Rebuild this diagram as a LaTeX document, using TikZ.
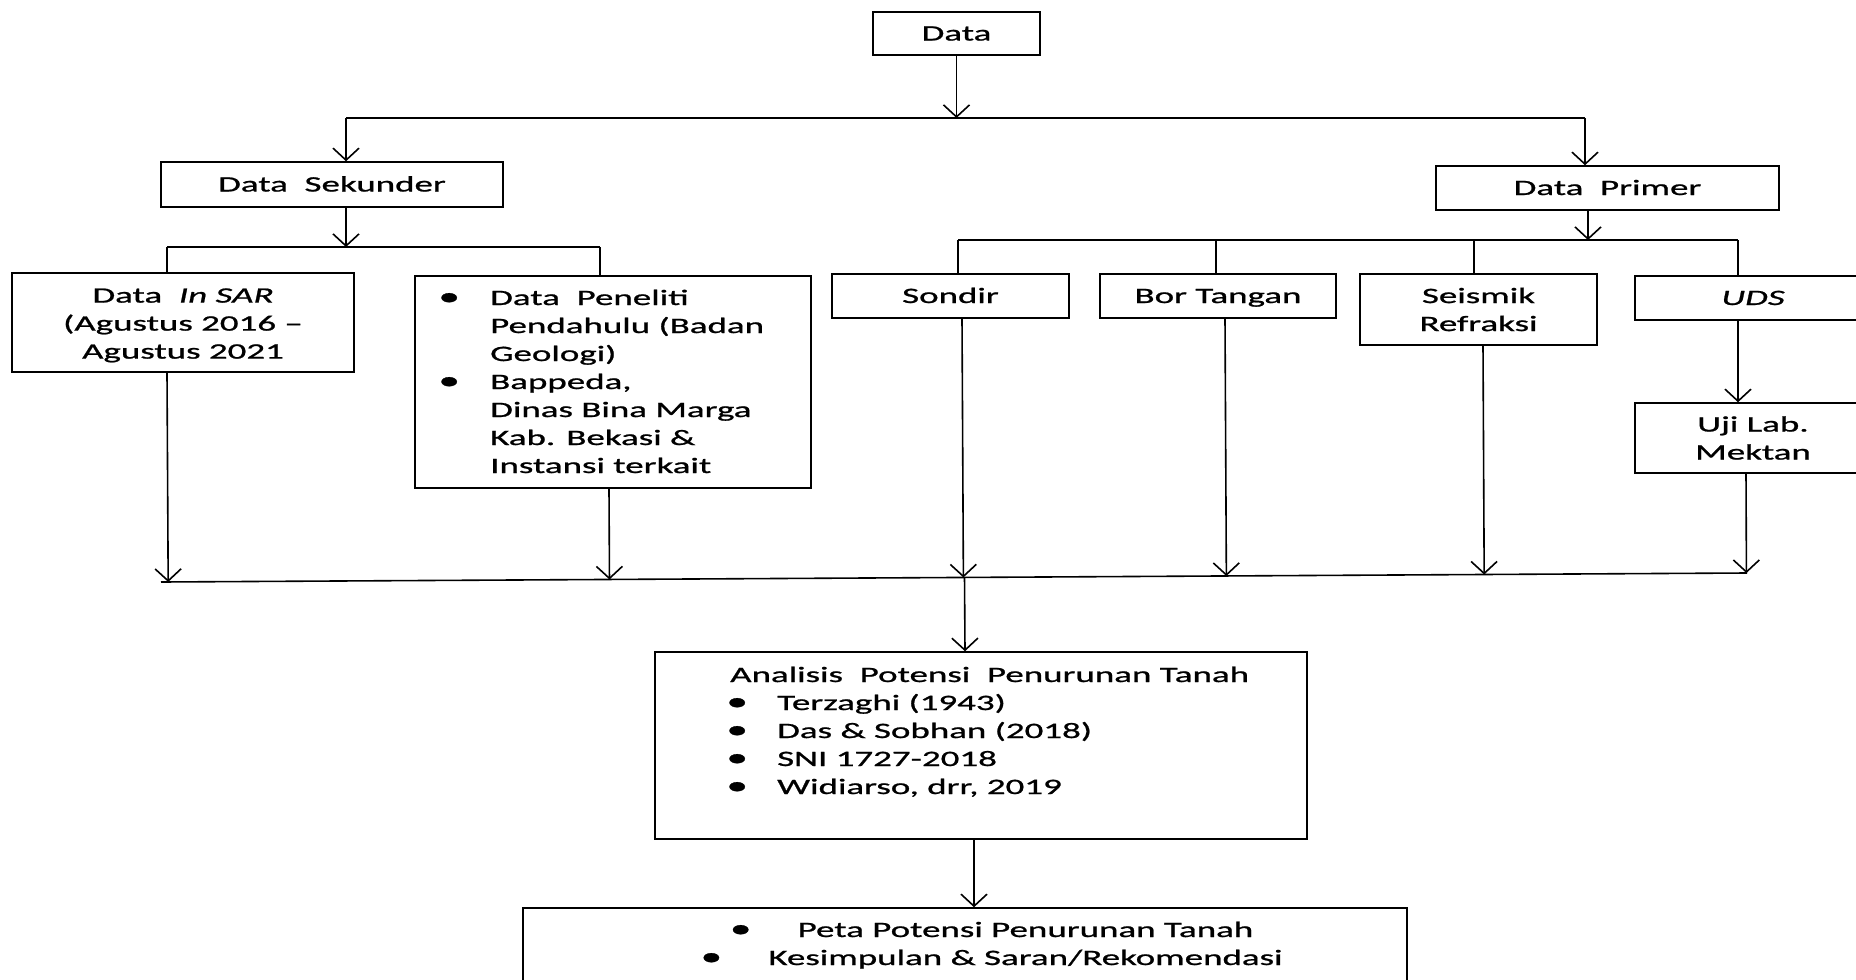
\documentclass[tikz,border=0pt]{standalone}
\usepackage{fontspec}
\setmainfont[FakeStretch=1.68, FakeBold=1]{Carlito}
\usepackage{tikz}
\usetikzlibrary{arrows.meta, calc}
\newcommand{\blt}{\makebox[0pt]{\fontsize{26}{28}\selectfont\symbol{"2022}}}

\begin{document}
\begin{tikzpicture}[x=1pt, y=-1pt, font=\fontsize{22}{28}\selectfont,
  box/.style={draw, line width=1.5pt, inner sep=0pt, align=center},
  onebox/.style={box, text height=17pt, text depth=3pt},
  link/.style={line width=1.6pt},
  arr/.style={link, -{Straight Barb[length=12pt, width=26pt]}}]
\useasboundingbox (0,0) rectangle (1856,980);
% Boxes
\node[onebox, minimum width=167, minimum height=43] (data) at (956.5,33.5) {Data};
\node[onebox, minimum width=342, minimum height=45] (sek) at (332,184.5) {Data\ \ Sekunder};
\node[onebox, minimum width=343, minimum height=44] (prim) at (1607.5,188) {Data\ \ Primer};
\node[box, minimum width=342, minimum height=99] (insar) at (183,322.5)
  {\rule{0pt}{20pt}Data\ \ \textit{In SAR}\\(Agustus 2016 --\\Agustus 2021};
\node[box, minimum width=396, minimum height=212] (bapp) at (613,382) {};
\node[onebox, minimum width=237, minimum height=44] (sondir) at (950.5,296) {Sondir};
\node[onebox, minimum width=236, minimum height=44] (bor) at (1218,296) {Bor Tangan};
\node[box, minimum width=237, minimum height=71] (seis) at (1478.5,309.5) {Seismik\\Refraksi};
\node[onebox, minimum width=236, minimum height=44] (uds) at (1753,298) {\textit{UDS}};
\node[box, minimum width=236, minimum height=70] (uji) at (1753,438) {Uji Lab.\\Mektan};
\node[box, minimum width=652, minimum height=187] (anl) at (981,745.5) {};
\node[box, minimum width=884, minimum height=100] (peta) at (965,958) {};
% Lists
\node[anchor=base west, inner sep=0pt] (bapptxt) at (449,305) {%
  \begin{tabular}[t]{@{}l@{\hspace{41pt}}l@{}}
  \blt & Data\ \ Peneliti\\
       & Pendahulu (Badan\\
       & Geologi)\\
  \blt & Bappeda,\\
       & Dinas Bina Marga\\
       & Kab. Bekasi \&\\
       & Instansi terkait
  \end{tabular}};
\node[anchor=base west, inner sep=0pt] (anltxt) at (730,682) {%
  \begin{tabular}[t]{@{\hspace{7pt}}l@{\hspace{40pt}}l@{}}
  \multicolumn{2}{@{}l@{}}{Analisis\ \ Potensi\ \ Penurunan Tanah}\\
  \blt & Terzaghi (1943)\\
  \blt & Das \& Sobhan (2018)\\
  \blt & SNI 1727-2018\\
  \blt & Widiarso, drr, 2019
  \end{tabular}};
\node[anchor=base, inner sep=0pt] (petatxt) at (997,937) {%
  \begin{tabular}[t]{@{}c@{}}
  \blt\hspace{57pt}Peta Potensi Penurunan Tanah\\
  \blt\hspace{57pt}Kesimpulan \& Saran/Rekomendasi
  \end{tabular}};
% Data -> Sekunder / Primer
\coordinate (ltop) at (346,118);
\coordinate (rtop) at (1585,118);
\draw[arr] (data.south) -- (data.south |- ltop);
\draw[link] (ltop) -- (rtop);
\draw[arr] (ltop) -- (ltop |- sek.north);
\draw[arr] (rtop) -- (rtop |- prim.north);
% Sekunder branch
\coordinate (sekj) at (346,247);
\coordinate (sekl) at (167,247);
\coordinate (sekr) at (600,247);
\draw[arr] (sekj |- sek.south) -- (sekj);
\draw[link] (sekl) -- (sekr);
\draw[link] (sekl) -- (sekl |- insar.north);
\draw[link] (sekr) -- (sekr |- bapp.north);
% Primer branch
\coordinate (primj) at (1588,240);
\draw[arr] (primj |- prim.south) -- (primj);
\draw[link] (958,240) -- (1738,240);
\foreach \nd/\xx in {sondir/958, bor/1216, seis/1474, uds/1738} {
  \coordinate (pj) at (\xx,240);
  \draw[link] (pj) -- (pj |- \nd.north);
}
\coordinate (udsj) at (1738,0);
\draw[arr] (udsj |- uds.south) -- (udsj |- uji.north);
% Collector
\coordinate (cl) at (161,582);
\coordinate (cr) at (1747,573);
\draw[link] (cl) -- (cr);
\foreach \nd/\xx in {insar/167, bapp/609, sondir/962, bor/1225, seis/1483, uji/1746} {
  \coordinate (cj) at (\xx,0);
  \draw[arr] (cj |- \nd.south) -- ($(cl)!(cj |- \nd.south)!(cr)$);
}
\coordinate (aj) at (965,0);
\draw[arr] ($(cl)!(aj |- anl.north)!(cr)$) -- (aj |- anl.north);
\coordinate (pj) at (974,0);
\draw[arr] (pj |- anl.south) -- (pj |- peta.north);
\end{tikzpicture}
\end{document}
